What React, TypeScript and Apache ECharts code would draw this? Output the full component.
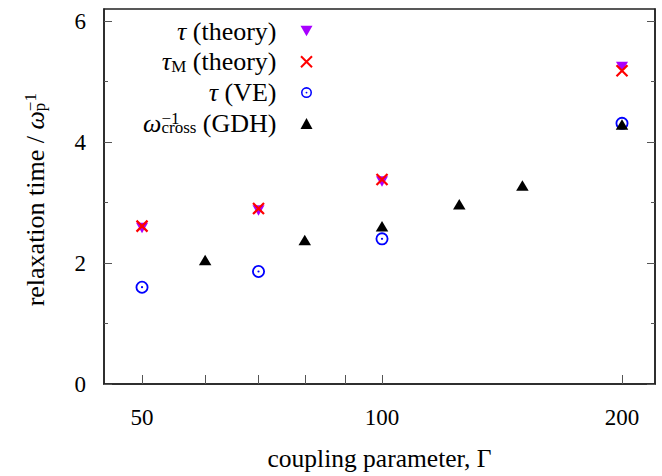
import React, { useEffect, useRef } from 'react';
import * as echarts from 'echarts';

// ---- data ----
const seriesNames = ['τ (theory)', 'τM (theory)', 'τ (VE)', 'ω−1cross (GDH)'];
const legendLabels = [
  '{i|τ}{n| (theory)}',
  '{i|τ}{sub|M}{n| (theory)}',
  '{i|τ}{n| (VE)}',
  '{i|ω}{sup|−1}{sub|cross}{n| (GDH)}',
];
const yAxisTitle = '{n|relaxation time / }{i|ω}{sup|−1}{sub|p}';
const xAxisTitle = 'coupling parameter, Γ';
const gammaTheory = [50, 70, 100, 200];
const tauTheory = [2.58, 2.87, 3.35, 5.24];
const tauMTheory = [2.61, 2.9, 3.38, 5.18];
const gammaVE = [50, 70, 100, 200];
const tauVE = [1.6, 1.86, 2.4, 4.31];
const gammaGDH = [60, 80, 100, 125, 150, 200];
const tauGDH = [2.05, 2.38, 2.61, 2.97, 3.28, 4.29];
const xTickValues = [50, 60, 70, 80, 90, 100, 200];
const xLabelValues = [50, 100, 200];
const yMajorTicks = [0, 2, 4, 6];
const yMinorTicks = [1, 3, 5];

const FONT = 'Liberation Serif';
const FS = 26;
const PURPLE = '#a800ff';
const DOWN_TRI = 'path://M0,0L12,0L6,10.5Z';
const CROSS = 'path://M0,0L10,10M0,10L10,0';
const RING =
  'path://M0,-10A10,10,0,1,1,0,10A10,10,0,1,1,0,-10Z' +
  'M0,-7.2A7.2,7.2,0,1,0,0,7.2A7.2,7.2,0,1,0,0,-7.2Z' +
  'M0,-1.7A1.7,1.7,0,1,1,0,1.7A1.7,1.7,0,1,1,0,-1.7Z';

const zip = (xs: number[], ys: number[]) => xs.map((x, i) => [x, ys[i]]);

const makeRich = (fs: number) => ({
  n: { fontFamily: FONT, fontSize: fs, lineHeight: 26, align: 'left', color: '#000' },
  i: { fontFamily: FONT, fontSize: fs, fontStyle: 'italic', lineHeight: 26, align: 'left', color: '#000' },
  sub: { fontFamily: FONT, fontSize: 17, lineHeight: 17, verticalAlign: 'bottom', align: 'left', color: '#000' },
  sup: { fontFamily: FONT, fontSize: 17, lineHeight: 9, verticalAlign: 'top', align: 'left', width: 0, color: '#000' },
});

export default function App() {
  const ref = useRef<HTMLDivElement>(null);
  useEffect(() => {
    if (!ref.current) return;
    const chart = echarts.init(ref.current, undefined, { renderer: 'svg' });
    const axisLine = { show: true, lineStyle: { color: '#222', width: 1.5 } };
    const tickStyle = { color: '#555', width: 1 };
    const tickFont = { fontFamily: FONT, fontSize: 23, color: '#000' };
    const yBase = { type: 'value', min: 0, max: 6.2, splitLine: { show: false } };
    chart.setOption({
      animation: false,
      backgroundColor: '#fff',
      grid: { left: 104, right: 7, top: 9, bottom: 88, show: true, borderColor: '#222', borderWidth: 1.5 },
      legend: {
        orient: 'vertical',
        right: 662 - 313,
        top: 18,
        align: 'right',
        padding: 0,
        itemWidth: 12,
        itemHeight: 11,
        itemGap: 4.8,
        selectedMode: false,
        formatter: (name: string) => legendLabels[seriesNames.indexOf(name)],
        textStyle: {
          fontFamily: FONT,
          fontSize: FS,
          color: '#000',
          lineHeight: 26,
          padding: [0, 19, 0, 0],
          rich: makeRich(FS),
        },
      },
      xAxis: {
        type: 'log',
        min: 44.8,
        max: 220,
        axisLine,
        axisTick: { show: true, inside: true, length: 9, customValues: xTickValues, lineStyle: tickStyle },
        axisLabel: { customValues: xLabelValues, margin: 22, ...tickFont },
        splitLine: { show: false },
        minorTick: { show: false },
        name: xAxisTitle,
        nameLocation: 'middle',
        nameGap: 61,
        nameTextStyle: { fontFamily: FONT, fontSize: 25.5, color: '#000' },
      },
      yAxis: [
        {
          ...yBase,
          position: 'left',
          axisLine,
          axisTick: { show: true, inside: true, length: 8, customValues: yMajorTicks, lineStyle: tickStyle },
          axisLabel: { customValues: yMajorTicks, margin: 18, ...tickFont },
          name: yAxisTitle,
          nameLocation: 'middle',
          nameRotate: 90,
          nameGap: 56,
          nameTextStyle: {
            fontFamily: FONT,
            fontSize: 26,
            color: '#000',
            lineHeight: 26,
            padding: [0, 16, 0, 0],
            rich: makeRich(26),
          },
        },
        {
          ...yBase,
          position: 'left',
          axisLine: { show: false },
          axisTick: { show: true, inside: true, length: 4, customValues: yMinorTicks, lineStyle: tickStyle },
          axisLabel: { show: false },
        },
        {
          ...yBase,
          position: 'right',
          axisLine,
          axisTick: { show: true, inside: true, length: 8, customValues: yMajorTicks, lineStyle: tickStyle },
          axisLabel: { show: false },
        },
        {
          ...yBase,
          position: 'right',
          axisLine: { show: false },
          axisTick: { show: true, inside: true, length: 4, customValues: yMinorTicks, lineStyle: tickStyle },
          axisLabel: { show: false },
        },
      ],
      series: [
        {
          name: seriesNames[0],
          type: 'scatter',
          data: zip(gammaTheory, tauTheory),
          symbol: DOWN_TRI,
          symbolSize: [12, 10.5],
          itemStyle: { color: PURPLE, opacity: 1 },
          silent: true,
        },
        {
          name: seriesNames[1],
          type: 'scatter',
          data: zip(gammaTheory, tauMTheory),
          symbol: CROSS,
          symbolSize: 11,
          itemStyle: { color: 'rgba(0,0,0,0)', borderColor: '#ff0000', borderWidth: 2.2, opacity: 1 },
          silent: true,
        },
        {
          name: seriesNames[2],
          type: 'scatter',
          data: zip(gammaVE, tauVE),
          symbol: RING,
          symbolSize: 13,
          itemStyle: { color: '#0000ff', opacity: 1 },
          silent: true,
        },
        {
          name: seriesNames[3],
          type: 'scatter',
          data: zip(gammaGDH, tauGDH),
          symbol: 'triangle',
          symbolSize: [12.5, 10.5],
          itemStyle: { color: '#000', opacity: 1 },
          silent: true,
        },
      ],
    });
    return () => chart.dispose();
  }, []);
  return <div ref={ref} style={{ position: 'fixed', left: 0, top: 0, width: 662, height: 476 }} />;
}
